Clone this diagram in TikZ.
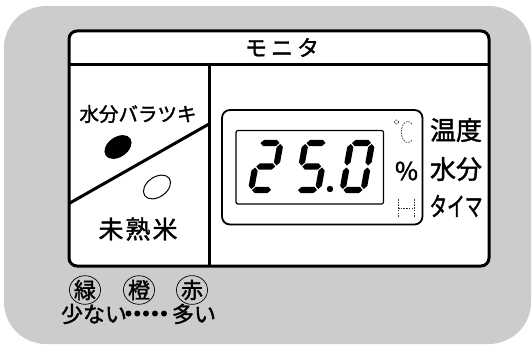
\documentclass[tikz,border=0pt]{standalone}
\usepackage{fontspec}
\usetikzlibrary{shapes.geometric}
\newfontfamily\jp{Noto Sans CJK JP}[FakeBold=1.6]
\newcommand\segH[3]{\fill (#1,#2) -- (#1+3.1,#2-3.1) -- (#3-3.1,#2-3.1) -- (#3,#2) -- (#3-3.1,#2+3.1) -- (#1+3.1,#2+3.1) -- cycle;}
\newcommand\segV[3]{\fill (#1,#2) -- (#1+3.1,#2+3.1) -- (#1+3.1,#3-3.1) -- (#1,#3) -- (#1-3.1,#3-3.1) -- (#1-3.1,#2+3.1) -- cycle;}
\newcommand\sgA{\segH{1}{0}{20}}
\newcommand\sgB{\segV{21}{1}{22.5}}
\newcommand\sgC{\segV{21}{24.5}{46}}
\newcommand\sgD{\segH{1}{47}{20}}
\newcommand\sgE{\segV{0}{24.5}{46}}
\newcommand\sgF{\segV{0}{1}{22.5}}
\newcommand\sgG{\segH{1}{23.5}{20}}
\begin{document}
\begin{tikzpicture}[x=1pt,y=-1pt,
  lbl/.style={inner sep=0pt, font=\jp},
  thickline/.style={line width=3pt},
  lcd/.style={dash pattern=on 1.6pt off 1.1pt, line width=0.7pt, black!80},
  badge/.style={draw, line width=0.7pt, ellipse, minimum width=31pt, minimum height=27pt, inner sep=0pt, font=\jp\fontsize{22}{22}\selectfont}]
\useasboundingbox (0,0) rectangle (532,345);
% background
\fill[black!20, rounded corners=42pt] (4,6) rectangle (531,344);
% main panel
\draw[thickline, fill=white, rounded corners=8pt] (69,31) rectangle (489,266);
\coordinate (hl) at (69,64.5);
\coordinate (hr) at (489,64.5);
\coordinate (dt) at (209,64.5);
\coordinate (db) at (209,266);
\coordinate (gt) at (209,124);
\coordinate (gb) at (69,203.5);
\draw[thickline] (hl) -- (hr);
\draw[thickline] (dt) -- (db);
\draw[thickline] (gt) -- (gb);
\node[lbl, font=\jp\fontsize{22}{22}\selectfont] (title) at (282,47.5) {モ\kern4ptニ\kern4ptタ};
% left side
\node[lbl, font=\jp\fontsize{19.5}{19.5}\selectfont] (bara) at (138,114) {水分バラツキ};
\node[lbl, font=\jp\fontsize{25}{25}\selectfont] (mijuku) at (138,229) {未\kern2pt熟\kern2pt米};
\fill[rotate around={35:(118,147)}] (118,147) ellipse (15 and 10);
\draw[line width=1pt, rotate around={35:(157,187)}] (157,187) ellipse (15 and 10);
% display
\draw[line width=1.8pt, rounded corners=8pt] (222,110) rectangle (422.5,224.5);
\draw[line width=1.2pt, rounded corners=2pt] (236,130.5) rectangle (383.5,204);
\begin{scope}[shift={(259.5,143)}, xslant=0.18]
  \sgA \sgB \sgG \sgE \sgD
\end{scope}
\begin{scope}[shift={(305.5,143)}, xslant=0.18]
  \sgA \sgF \sgG \sgC \sgD
\end{scope}
\begin{scope}[shift={(351,143)}, xslant=0.18]
  \sgA \sgB \sgC \sgD \sgE \sgF
\end{scope}
\fill (330,189) circle (3.2);
% unit marks
\draw[lcd] (396.5,122) circle (2);
\draw[lcd] (412,124) arc[start angle=-50, end angle=-310, x radius=6.5, y radius=10.5];
\node[lbl, font=\jp\fontsize{25}{25}\selectfont] (pct) at (406.5,171) {\%};
\draw[lcd] (398,199) -- (398,217);
\draw[lcd] (414,199) -- (414,217);
\draw[lcd] (398,208) -- (414,208);
\node[lbl, font=\jp\fontsize{26}{26}\selectfont] (ondo) at (456,130) {温度};
\node[lbl, font=\jp\fontsize{26}{26}\selectfont] (suibun) at (456,169) {水分};
\node[lbl, font=\jp\fontsize{26}{26}\selectfont, xscale=0.68] (timer) at (456,206) {タイマ};
% legend
\node[badge] (midori) at (85,290) {緑};
\node[badge] (dai) at (139,290) {橙};
\node[badge] (aka) at (192,290) {赤};
\node[lbl, font=\jp\fontsize{22}{22}\selectfont] (sukunai) at (94,314) {少ない};
\foreach \i/\x in {1/128.5,2/137.3,3/146,4/155,5/164}
  \fill (\x,313.5) circle (3);
\node[lbl, font=\jp\fontsize{22}{22}\selectfont] (ooi) at (194,314) {多い};
\end{tikzpicture}
\end{document}
